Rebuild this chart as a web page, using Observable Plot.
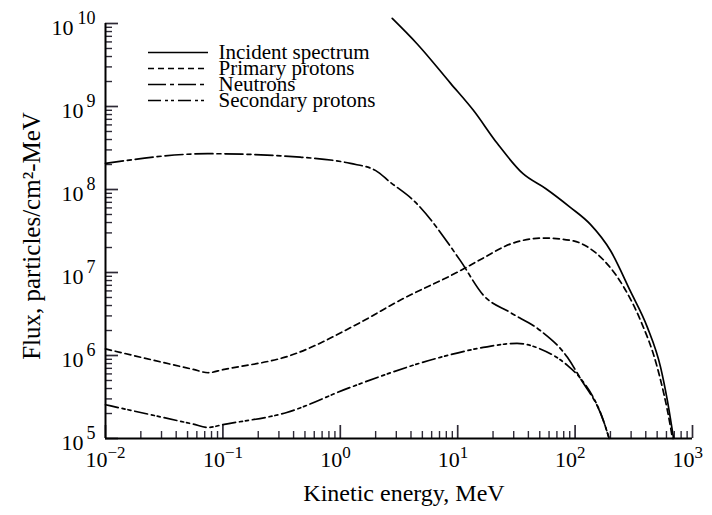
<!DOCTYPE html>
<html><head><meta charset="utf-8">
<script src="https://cdn.jsdelivr.net/npm/d3@7"></script>
<script src="https://cdn.jsdelivr.net/npm/@observablehq/plot@0.6"></script>
<style>
body{margin:0;background:#fff;}
#wrap{position:relative;width:712px;height:515px;}
#legend{position:absolute;left:140px;top:41px;}
</style></head><body><div id="wrap"></div>
<script>
// Incident spectrum
const energyIncident = [2.77, 4.5, 8.7, 13.6, 21.7, 36, 56, 91, 135, 200, 295, 412, 535, 610, 690];
const fluxIncident   = [1.15e10, 5.7e9, 1.9e9, 9e8, 3.6e8, 1.55e8, 1.03e8, 6.1e7, 3.8e7, 1.84e7, 6e6, 2.2e6, 7.2e5, 2.9e5, 1e5];
// Primary protons
const energyPrimary = [0.01, 0.056, 0.075, 0.1, 0.375, 1.48, 3.2, 10.5, 16.6, 28, 54, 97, 135, 176, 260, 361, 501, 650, 675];
const fluxPrimary   = [1.2e6, 6.8e5, 6.2e5, 6.75e5, 1e6, 2.5e6, 4.6e6, 1.05e7, 1.5e7, 2.2e7, 2.6e7, 2.4e7, 1.93e7, 1.4e7, 6.65e6, 2.64e6, 7.2e5, 1.37e5, 1e5];
// Neutrons
const energyNeutrons = [0.01, 0.074, 0.457, 1.22, 1.99, 2.67, 4.2, 10.5, 16.6, 28, 50.5, 86, 110, 174, 195];
const fluxNeutrons   = [2.06e8, 2.7e8, 2.45e8, 2.06e8, 1.7e8, 1.22e8, 7.4e7, 1.4e7, 5.3e6, 3.3e6, 2.0e6, 9.5e5, 5.4e5, 1.65e5, 1e5];
// Secondary protons
const energySecondary = [0.01, 0.056, 0.075, 0.1, 0.35, 1.2, 7.1, 16.5, 32, 50.5, 86, 110, 174, 195];
const fluxSecondary   = [2.55e5, 1.49e5, 1.36e5, 1.47e5, 2.06e5, 4.1e5, 9.5e5, 1.25e6, 1.4e6, 1.2e6, 7.6e5, 5.4e5, 1.65e5, 1e5];

const seriesNames = ["Incident spectrum", "Primary protons", "Neutrons", "Secondary protons"];
const seriesDash = [null, "6,4", "18,4,4,4", "13,4,3,3,3,4"];

const xMajorExp = [-2, -1, 0, 1, 2, 3];
const yMajorExp = [5, 6, 7, 8, 9, 10];
const xLabel = "Kinetic energy, MeV";
const yLabel = "Flux, particles/cm²-MeV";

const rows = (E, F) => E.map((e, i) => ({E: e, F: F[i]}));
const seriesData = [
  rows(energyIncident, fluxIncident),
  rows(energyPrimary, fluxPrimary),
  rows(energyNeutrons, fluxNeutrons),
  rows(energySecondary, fluxSecondary)
];

const minorOf = exps => {
  const out = [];
  for (let k = 0; k < exps.length - 1; k++)
    for (let m = 2; m <= 9; m++) out.push(m * 10 ** exps[k]);
  return out;
};
const xMinor = minorOf(xMajorExp);
const yMinor = minorOf(yMajorExp);
const xMajor = xMajorExp.map(e => 10 ** e);
const yMajor = yMajorExp.map(e => 10 ** e);
const expText = e => (e < 0 ? "\u2212" + (-e) : String(e));

const font = "'Liberation Serif', 'Times New Roman', serif";
const tickColor = "#2e2a36";
const W = 712, H = 515, mL = 105, mR = 20, mT = 23, mB = 77;
const frameW = W - mL - mR, frameH = H - mT - mB;

const chart = Plot.plot({
  width: W, height: H,
  marginLeft: mL, marginRight: mR, marginTop: mT, marginBottom: mB,
  x: {type: "log", domain: [1e-2, 1e3], axis: null},
  y: {type: "log", domain: [1e5, 1e10], axis: null},
  style: {fontFamily: font, background: "white", color: "black"},
  marks: [
    // inward ticks
    Plot.tickX(xMinor, {x: d => d, insetTop: frameH - 7, stroke: tickColor, strokeWidth: 1.4}),
    Plot.tickX(xMajor, {x: d => d, insetTop: frameH - 13, stroke: tickColor, strokeWidth: 1.7}),
    Plot.tickY(yMinor, {y: d => d, insetRight: frameW - 7, stroke: tickColor, strokeWidth: 1.4}),
    Plot.tickY(yMajor, {y: d => d, insetRight: frameW - 13, stroke: tickColor, strokeWidth: 1.7}),
    Plot.ruleY([1e5], {stroke: "black", strokeWidth: 2}),
    Plot.ruleX([1e-2], {stroke: "black", strokeWidth: 2}),
    ...seriesData.map((d, i) => Plot.line(d, {
      x: "E", y: "F", curve: "monotone-x", stroke: "black",
      strokeWidth: 1.7, strokeDasharray: seriesDash[i]
    })),
    // x tick labels
    Plot.text(xMajorExp, {x: e => 10 ** e, text: () => "10", frameAnchor: "bottom",
      textAnchor: "end", dx: 2, dy: 28, fontSize: 22}),
    Plot.text(xMajorExp, {x: e => 10 ** e, text: expText, frameAnchor: "bottom",
      textAnchor: "start", dx: 2, dy: 19, fontSize: 17}),
    // y tick labels
    Plot.text(yMajorExp.filter(e => e < 10), {y: e => 10 ** e, text: () => "10", frameAnchor: "left",
      textAnchor: "end", dx: -22, dy: 4, fontSize: 22}),
    Plot.text(yMajorExp.filter(e => e >= 10), {y: e => 10 ** e, text: () => "10", frameAnchor: "left",
      textAnchor: "end", dx: -32, dy: 4, fontSize: 22}),
    Plot.text(yMajorExp, {y: e => 10 ** e, text: expText, frameAnchor: "left",
      textAnchor: "end", dx: -10, dy: -5, fontSize: 18}),
    // axis titles
    Plot.text([xLabel], {text: d => d, frameAnchor: "bottom", textAnchor: "middle", dx: 5, dy: 62, fontSize: 24}),
    Plot.text([yLabel], {text: d => d, frameAnchor: "left", textAnchor: "middle", rotate: -90, dx: -74, dy: 5, fontSize: 25})
  ]
});

const legendRows = seriesNames.map((name, i) => ({name, dash: seriesDash[i]}));
const legend = Plot.plot({
  width: 300, height: 75, margin: 0,
  x: {domain: [0, 1], range: [8, 68], axis: null},
  y: {type: "point", domain: seriesNames, range: [10, 59], padding: 0, axis: null},
  style: {fontFamily: font, background: "transparent", color: "black"},
  marks: [
    ...legendRows.map(r => Plot.ruleY([r], {y: "name", x1: 0, x2: 1, stroke: "black",
      strokeWidth: 1.6, strokeDasharray: r.dash})),
    Plot.text(legendRows, {x: 1, y: "name", text: "name", textAnchor: "start", dx: 10, fontSize: 21})
  ]
});
legend.id = "legend";

const wrap = document.getElementById("wrap");
wrap.appendChild(chart);
wrap.appendChild(legend);
</script>
</body></html>
